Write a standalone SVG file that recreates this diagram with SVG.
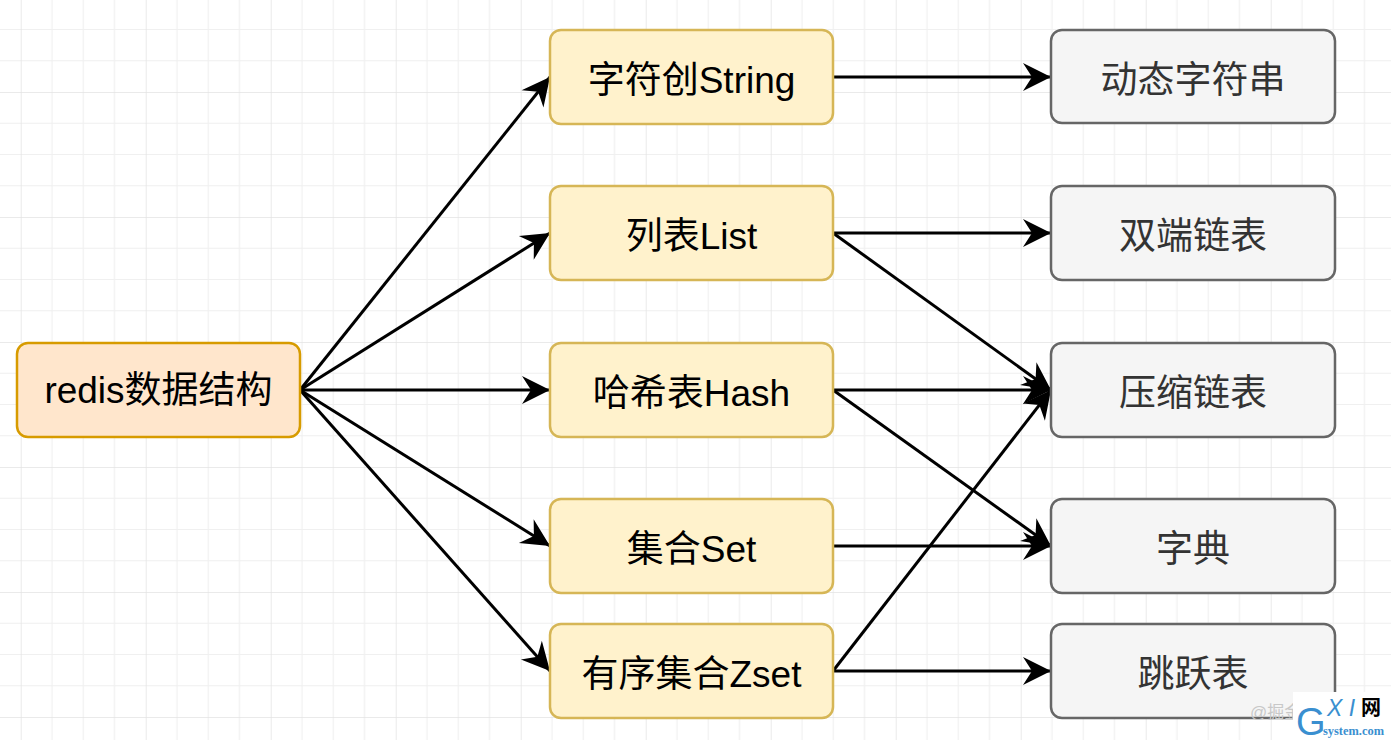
<svg xmlns="http://www.w3.org/2000/svg" width="1391" height="740" viewBox="0 0 1391 740">
  <style>
    .t { font-family: "Liberation Sans", "Noto Sans CJK SC", sans-serif; text-anchor: middle; font-size: 37px; }
    .root rect { fill: #ffe6cc; stroke: #d79b00; stroke-width: 2.5; }
    .mid rect { fill: #fff2cc; stroke: #d6b656; stroke-width: 2.5; }
    .leaf rect { fill: #f5f5f5; stroke: #666666; stroke-width: 2.5; }
    .mid text, .root text { fill: #000000; }
    .leaf text { fill: #333333; }
    .edges line { stroke: #000000; stroke-width: 3; fill: none; }
  </style>
  <defs>
    <pattern id="grid" patternUnits="userSpaceOnUse" x="20.7" y="-33" width="125" height="125">
      <path d="M31.25 0V125M62.5 0V125M93.75 0V125M0 31.25H125M0 62.5H125M0 93.75H125" stroke="#f0f0f0" stroke-width="1.2" fill="none"/>
      <path d="M0 0V125M0 0H125" stroke="#e3e3e3" stroke-width="1.5" fill="none"/>
    </pattern>
    <marker id="arr" markerUnits="userSpaceOnUse" viewBox="-29 -15 30 30" refX="0" refY="0" markerWidth="30" markerHeight="30" orient="auto">
      <path d="M0 0L-28 -14L-19 0L-28 14Z" fill="#000000"/>
    </marker>
  </defs>
  <rect x="0" y="0" width="1391" height="740" fill="#ffffff"/>
  <rect x="0" y="0" width="1391" height="740" fill="url(#grid)"/>

  <g id="connectors" class="edges">
    <line x1="300" y1="390" x2="550" y2="77" marker-end="url(#arr)"/>
    <line x1="300" y1="390" x2="550" y2="233" marker-end="url(#arr)"/>
    <line x1="300" y1="390" x2="550" y2="390" marker-end="url(#arr)"/>
    <line x1="300" y1="390" x2="550" y2="546" marker-end="url(#arr)"/>
    <line x1="300" y1="390" x2="550" y2="671" marker-end="url(#arr)"/>
    <line x1="833" y1="77" x2="1051" y2="77" marker-end="url(#arr)"/>
    <line x1="833" y1="233" x2="1051" y2="233" marker-end="url(#arr)"/>
    <line x1="833" y1="233" x2="1051" y2="390" marker-end="url(#arr)"/>
    <line x1="833" y1="390" x2="1051" y2="390" marker-end="url(#arr)"/>
    <line x1="833" y1="390" x2="1051" y2="546" marker-end="url(#arr)"/>
    <line x1="833" y1="546" x2="1051" y2="546" marker-end="url(#arr)"/>
    <line x1="833" y1="671" x2="1051" y2="390" marker-end="url(#arr)"/>
    <line x1="833" y1="671" x2="1051" y2="671" marker-end="url(#arr)"/>
  </g>

  <g id="redis" class="root">
    <rect x="17" y="343" width="283" height="94" rx="11"/>
    <text class="t" x="158.5" y="403">redis数据结构</text>
  </g>

  <g id="string" class="mid">
    <rect x="550" y="30" width="283" height="94" rx="11"/>
    <text class="t" x="691.5" y="93">字符创String</text>
  </g>
  <g id="list" class="mid">
    <rect x="550" y="186" width="283" height="94" rx="11"/>
    <text class="t" x="691.5" y="249">列表List</text>
  </g>
  <g id="hash" class="mid">
    <rect x="550" y="343" width="283" height="94" rx="11"/>
    <text class="t" x="691.5" y="406">哈希表Hash</text>
  </g>
  <g id="set" class="mid">
    <rect x="550" y="499" width="283" height="94" rx="11"/>
    <text class="t" x="691.5" y="562">集合Set</text>
  </g>
  <g id="zset" class="mid">
    <rect x="550" y="624" width="283" height="94" rx="11"/>
    <text class="t" x="691.5" y="687">有序集合Zset</text>
  </g>

  <g id="sds" class="leaf">
    <rect x="1051" y="30" width="284" height="93" rx="11"/>
    <text class="t" x="1193" y="93">动态字符串</text>
  </g>
  <g id="linkedlist" class="leaf">
    <rect x="1051" y="186" width="284" height="94" rx="11"/>
    <text class="t" x="1193" y="249">双端链表</text>
  </g>
  <g id="ziplist" class="leaf">
    <rect x="1051" y="343" width="284" height="94" rx="11"/>
    <text class="t" x="1193" y="406">压缩链表</text>
  </g>
  <g id="dict" class="leaf">
    <rect x="1051" y="499" width="284" height="94" rx="11"/>
    <text class="t" x="1193" y="562">字典</text>
  </g>
  <g id="skiplist" class="leaf">
    <rect x="1051" y="624" width="284" height="94" rx="11"/>
    <text class="t" x="1193" y="687">跳跃表</text>
  </g>

  <g id="watermark">
    <text x="1250" y="718" font-family="Liberation Sans, Noto Sans CJK SC, sans-serif" font-size="17" fill="#c8c8c8">@掘金</text>
    <rect x="1293" y="692" width="98" height="48" fill="#ffffff"/>
    <text x="1296" y="735" font-family="Liberation Sans, sans-serif" font-size="38" fill="#3a8fd0">G</text>
    <text x="1327" y="716" font-family="Liberation Sans, sans-serif" font-size="23" font-style="italic" fill="#3a8fd0">X I</text>
    <text x="1361" y="715" font-family="Noto Sans CJK SC, sans-serif" font-size="20" font-weight="bold" fill="#000000">网</text>
    <text x="1323" y="735" font-family="Liberation Serif, serif" font-size="12" font-weight="bold" fill="#3a8fd0" textLength="61" lengthAdjust="spacingAndGlyphs">system.com</text>
  </g>
</svg>
